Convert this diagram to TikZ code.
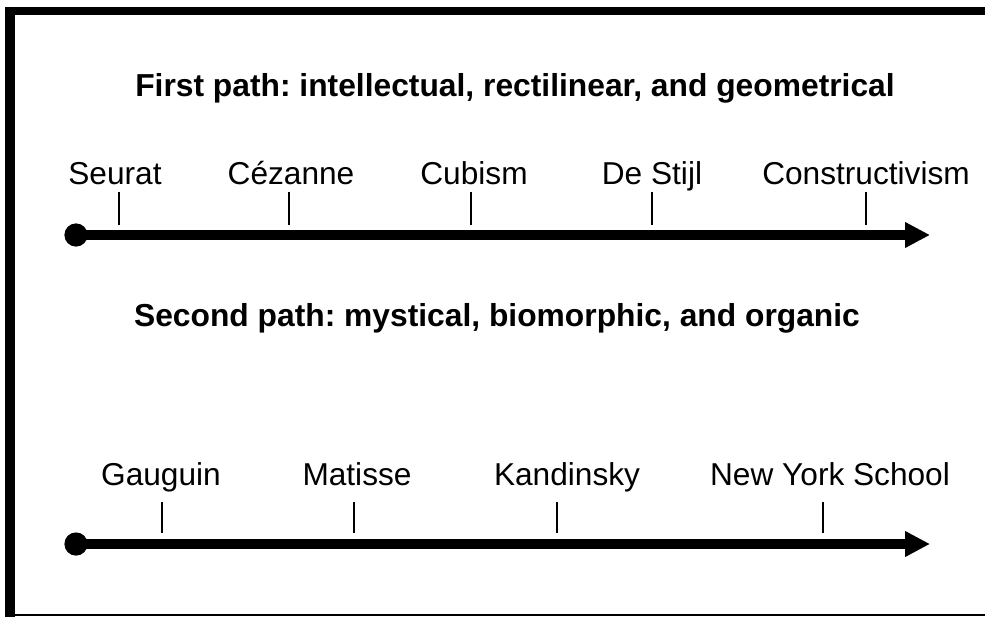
\documentclass[tikz,border=0pt]{standalone}
\usepackage{fontspec}
\setmainfont{Liberation Sans}
\usetikzlibrary{arrows.meta,positioning}
\frenchspacing

\begin{document}
\begin{tikzpicture}[x=0.025cm, y=-0.025cm, font=\fontsize{22.5}{27}\selectfont,
    axis/.style={line width=0.25cm, -{Triangle[length=0.62cm,width=0.6cm]}},
    dot/.style={circle, fill, inner sep=0pt, minimum size=0.58cm},
    tickline/.style={line width=0.05cm},
    era/.style={anchor=base},
    heading/.style={font=\bfseries\fontsize{22.6}{27}\selectfont}]
    \useasboundingbox (0,0) rectangle (985,617);

    % Frame
    \draw[line width=0.25cm] (10,617) -- (10,7);
    \draw[line width=0.2cm] (5,11) -- (985,11);
    \draw[line width=0.05cm] (10,615) -- (985,615);

    % First path
    \node[heading] (title1) at (515,88) {First path: intellectual, rectilinear, and geometrical};
    \node[dot] (start1) at (76,235) {};
    \coordinate (end1) at (930,235);
    \draw[axis] (start1.center) -- (end1);
    \foreach \lx/\tx/\name in {115/119/Seurat, 291/289/Cézanne, 474/471/Cubism,
                               652/652/De Stijl, 866/866/Constructivism} {
        \node[era] (a\tx) at (\lx,185) {\name};
        \draw[tickline] (\tx,192) -- (\tx,225);
    }

    % Second path
    \node[heading] (title2) at (497,318) {Second path: mystical, biomorphic, and organic};
    \node[dot] (start2) at (76,544) {};
    \coordinate (end2) at (930,544);
    \draw[axis] (start2.center) -- (end2);
    \foreach \lx/\tx/\name in {161/162/Gauguin, 357/354/Matisse, 567/557/Kandinsky,
                               830/823/New York School} {
        \node[era] (b\tx) at (\lx,485) {\name};
        \draw[tickline] (\tx,502) -- (\tx,533);
    }
\end{tikzpicture}
\end{document}
